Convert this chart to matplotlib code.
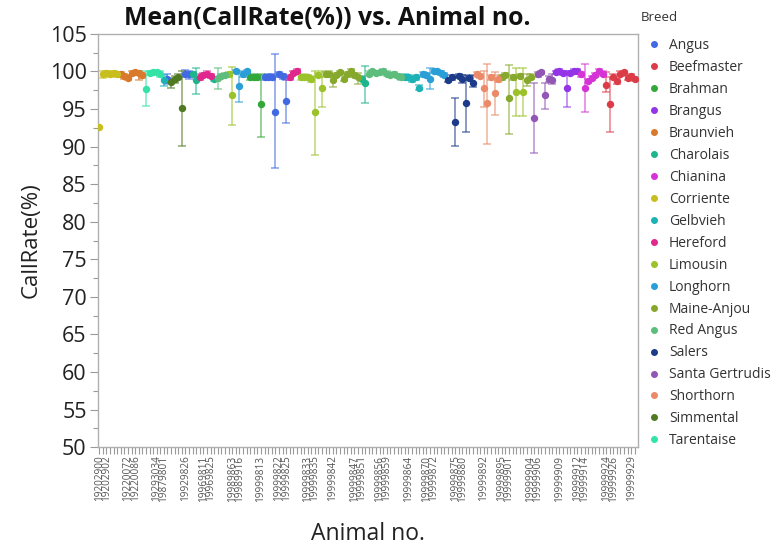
import numpy as np
import matplotlib
matplotlib.use("Agg")
import matplotlib.pyplot as plt
from matplotlib.lines import Line2D

plt.rcParams['font.family'] = ['Open Sans', 'DejaVu Sans']

# breed colours (legend order)
breeds = ['Angus', 'Beefmaster', 'Brahman', 'Brangus', 'Braunvieh', 'Charolais',
          'Chianina', 'Corriente', 'Gelbvieh', 'Hereford', 'Limousin', 'Longhorn',
          'Maine-Anjou', 'Red Angus', 'Salers', 'Santa Gertrudis', 'Shorthorn',
          'Simmental', 'Tarentaise']
colors = ['#4169E1', '#DC3C48', '#33A83A', '#9334E6', '#D9792B', '#1FB58C',
          '#D633D6', '#C8BE1E', '#1DB2B5', '#E0278E', '#9CC22A', '#2A9ED6',
          '#86A82C', '#5DBD7C', '#1C3C8A', '#9256B4', '#EB8A68', '#4F7A22',
          '#33E3A6']

# breed of each animal, in x order (breed, count)
breed_runs = [('Corriente', 6), ('Braunvieh', 7), ('Tarentaise', 5), ('Gelbvieh', 1),
              ('Angus', 1), ('Simmental', 4), ('Angus', 2), ('Charolais', 2),
              ('Hereford', 4), ('Charolais', 1), ('Red Angus', 3), ('Limousin', 2),
              ('Longhorn', 4), ('Brahman', 4), ('Angus', 7), ('Hereford', 3),
              ('Limousin', 7), ('Maine-Anjou', 10), ('Charolais', 2), ('Red Angus', 10),
              ('Gelbvieh', 5), ('Longhorn', 7), ('Salers', 8), ('Shorthorn', 7),
              ('Maine-Anjou', 4), ('Limousin', 1), ('Maine-Anjou', 1), ('Limousin', 1),
              ('Maine-Anjou', 2), ('Santa Gertrudis', 6), ('Brangus', 7),
              ('Chianina', 7), ('Beefmaster', 9)]

# mean CallRate(%) and range per animal
mean = [92.6, 99.7, 99.8, 99.7, 99.8, 99.6, 99.6, 99.4, 99.1, 99.8,
        99.9, 99.8, 99.5, 97.6, 99.8, 99.9, 99.9, 99.7, 98.8, 99.0,
        98.6, 99.0, 99.3, 95.1, 99.7, 99.6, 99.6, 98.8, 99.2, 99.5,
        99.7, 99.4, 99.0, 99.1, 99.4, 99.5, 99.6, 96.8, 100.0, 98.0,
        99.6, 100.0, 99.2, 99.3, 99.2, 95.6, 99.2, 99.3, 99.2, 94.6,
        99.6, 99.4, 96.1, 99.2, 99.8, 100.1, 99.2, 99.3, 99.2, 99.0,
        94.6, 99.5, 97.8, 99.6, 99.7, 98.8, 99.5, 99.9, 99.0, 99.6,
        100.1, 99.5, 99.2, 99.0, 98.4, 99.7, 100.0, 99.8, 99.9, 100.1,
        99.7, 99.5, 99.6, 99.4, 99.2, 99.3, 99.2, 99.0, 99.2, 97.8,
        99.6, 99.5, 99.0, 100.1, 100.0, 99.8, 99.5, 98.8, 99.2, 93.3,
        99.4, 99.0, 95.8, 99.1, 98.4, 99.6, 99.4, 97.8, 95.8, 99.2,
        97.1, 99.0, 99.2, 99.5, 96.4, 99.2, 97.3, 99.4, 97.3, 98.8,
        99.3, 93.8, 99.6, 99.9, 96.8, 99.0, 98.8, 99.9, 100.1, 99.8,
        97.8, 99.8, 100.1, 100.1, 99.6, 97.8, 98.7, 99.1, 99.5, 100.1,
        99.7, 98.2, 95.6, 99.3, 98.7, 99.7, 99.9, 99.1, 99.4, 99.0]
low = [92.6, 99.1, 99.4, 99.3, 99.5, 99.2, 99.3, 99.0, 98.9, 99.5,
       99.6, 98.8, 99.1, 95.4, 99.5, 99.6, 99.6, 99.3, 98.0, 98.3,
       97.8, 98.5, 99.0, 90.1, 99.2, 99.0, 99.3, 97.0, 98.9, 99.2,
       99.4, 99.1, 98.7, 97.6, 99.1, 99.2, 99.3, 92.9, 99.8, 95.9,
       99.3, 99.8, 98.9, 99.0, 98.9, 91.3, 98.9, 99.0, 98.8, 87.1,
       99.3, 99.0, 93.2, 98.9, 99.5, 99.8, 98.9, 99.0, 98.9, 98.6,
       88.9, 99.2, 95.2, 99.3, 99.4, 97.9, 99.2, 99.6, 98.7, 99.3,
       99.8, 99.2, 98.3, 98.7, 95.8, 99.4, 99.8, 99.5, 99.6, 99.9,
       99.4, 99.2, 99.3, 99.1, 98.9, 99.0, 98.9, 98.6, 98.9, 97.5,
       99.3, 99.2, 97.6, 99.8, 99.7, 99.5, 99.2, 98.6, 98.9, 90.1,
       99.1, 98.5, 91.9, 98.8, 97.9, 99.3, 99.1, 95.2, 90.4, 98.9,
       94.2, 98.6, 98.9, 99.2, 91.7, 98.9, 94.1, 99.1, 94.1, 98.0,
       99.0, 89.2, 99.3, 99.6, 95.0, 98.6, 98.3, 99.6, 99.8, 99.5,
       95.2, 99.5, 99.8, 99.8, 99.3, 94.6, 98.4, 98.8, 99.2, 99.8,
       99.4, 97.3, 92.0, 99.0, 98.3, 99.4, 99.6, 98.8, 99.1, 98.7]
high = [92.6, 100.0, 100.0, 100.0, 100.0, 99.9, 99.9, 99.7, 99.5, 100.0,
        100.1, 100.0, 99.8, 100.0, 100.0, 100.1, 100.1, 100.0, 99.5, 99.6,
        99.1, 99.4, 99.6, 100.0, 100.2, 100.1, 99.9, 100.4, 99.6, 99.8,
        100.0, 99.7, 99.3, 100.4, 99.7, 99.8, 99.9, 100.6, 100.2, 100.0,
        99.9, 100.2, 99.5, 99.6, 99.5, 99.6, 99.5, 99.6, 99.6, 102.3,
        99.9, 99.7, 98.8, 99.5, 100.1, 100.3, 99.5, 99.6, 99.5, 99.4,
        100.1, 99.8, 100.1, 99.9, 100.0, 99.4, 99.8, 100.1, 99.4, 99.9,
        100.3, 99.8, 99.8, 99.4, 100.7, 100.0, 100.2, 100.0, 100.1, 100.3,
        100.0, 99.8, 99.9, 99.7, 99.5, 99.6, 99.5, 99.4, 99.5, 98.2,
        99.9, 99.8, 100.4, 100.3, 100.2, 100.0, 99.8, 99.1, 99.5, 96.4,
        99.7, 99.5, 99.5, 99.4, 99.5, 99.9, 99.7, 100.0, 101.0, 99.5,
        99.9, 99.5, 99.5, 99.8, 100.8, 99.5, 100.4, 99.7, 100.4, 99.7,
        99.6, 98.4, 99.9, 100.1, 98.4, 99.4, 99.7, 100.1, 100.3, 100.0,
        100.0, 100.0, 100.3, 100.3, 99.9, 101.0, 99.0, 99.4, 99.8, 100.3,
        100.0, 99.9, 99.2, 99.6, 99.1, 100.0, 100.1, 99.4, 99.7, 99.3]

# animal numbers that are readable on the axis (position in x order: label)
shown_ids = {0: '19202900', 2: '19202902', 8: '19220072', 10: '19220086',
             16: '19293034', 18: '19879801', 24: '19929826', 29: '19969811',
             31: '19969825', 37: '19989863', 39: '19989916', 45: '19999813',
             50: '19999822', 52: '19999825', 58: '19999833', 60: '19999835',
             65: '19999842', 71: '19999847', 73: '19999851', 78: '19999856',
             80: '19999859', 86: '19999864', 91: '19999870', 93: '19999872',
             99: '19999875', 101: '19999880', 107: '19999892', 112: '19999895',
             114: '19999901', 120: '19999904', 122: '19999906', 128: '19999909',
             133: '19999912', 135: '19999914', 141: '19999924', 143: '19999926',
             148: '19999929'}

breed_of = []
for b, n in breed_runs:
    breed_of += [b] * n
breed_of = np.array(breed_of)
mean = np.array(mean)
low = np.array(low)
high = np.array(high)
x = np.arange(len(mean))

fig = plt.figure(figsize=(7.82, 5.46), dpi=100)
ax = fig.add_axes([0.125, 0.181, 0.691, 0.757])

for b, c in zip(breeds, colors):
    m = breed_of == b
    if not m.any():
        continue
    ax.errorbar(x[m], mean[m], yerr=[mean[m] - low[m], high[m] - mean[m]],
                fmt='none', ecolor=c, alpha=0.65, elinewidth=1.1,
                capsize=3, capthick=1.1, zorder=2)
    ax.plot(x[m], mean[m], 'o', color=c, ms=4.3, mec=c, zorder=3)

ax.set_xlim(-0.4, len(mean) - 0.1)
ax.set_ylim(50, 105)
ax.set_yticks(np.arange(50, 106, 5))
ax.set_yticks(np.arange(52.5, 105, 5), minor=True)
ax.set_xticks(x)
ax.set_xticklabels([shown_ids.get(i, '') for i in x], rotation=90,
                   fontsize=7.2, color='#555555')
ax.tick_params(axis='x', length=5, width=0.8, color='#9a9a9a', pad=1)
ax.tick_params(axis='y', which='major', length=6, width=0.8, color='#9a9a9a',
               labelsize=15.5, labelcolor='#222222', pad=2)
ax.tick_params(axis='y', which='minor', length=3.5, width=0.8, color='#9a9a9a')
for s in ax.spines.values():
    s.set_color('#b0b0b0')
    s.set_linewidth(1)

ax.set_ylabel('CallRate(%)', fontsize=16, color='#222222', labelpad=6)
ax.set_xlabel('Animal no.', fontsize=16.5, color='#222222', labelpad=15)
fig.text(0.419, 0.966, 'Mean(CallRate(%)) vs. Animal no.', fontsize=17.8,
         fontweight='bold', ha='center', va='center', color='#111111')

fig.text(0.82, 0.968, 'Breed', fontsize=9.5, color='#333333', ha='left', va='center')
handles = [Line2D([], [], ls='none', marker='o', ms=4, color=c) for c in colors]
leg = fig.legend(handles, breeds, loc='upper left', bbox_to_anchor=(0.826, 0.93),
                 frameon=False, fontsize=10, labelspacing=0.5,
                 handletextpad=0.45, handlelength=1.2, borderpad=0,
                 borderaxespad=0, labelcolor='#333333')

fig.savefig('out.png', dpi=100)
